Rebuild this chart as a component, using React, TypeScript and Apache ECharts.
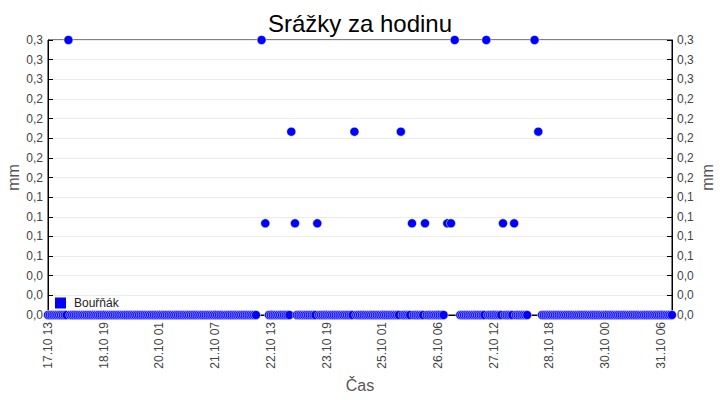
import React, { useEffect, useRef } from "react";
import * as echarts from "echarts";

// Hourly timeline: 17.10 13:00 (CEST) .. 31.10 12:00 (CET)
const START_UTC = Date.UTC(2014, 9, 17, 11);
const DST_END_UTC = Date.UTC(2014, 9, 26, 1);
const HOUR_COUNT = 337;

// Non-zero hourly rain (index of hour from start, value in mm)
const rainHours = [11, 115, 117, 131, 133, 145, 165, 190, 196, 203, 215, 217, 219, 236, 245, 251, 262, 264];
const rainValues = [0.3, 0.3, 0.1, 0.2, 0.1, 0.1, 0.2, 0.2, 0.1, 0.1, 0.1, 0.1, 0.3, 0.3, 0.1, 0.1, 0.3, 0.2];
// Hours without a record
const missingHours = [113, 114, 116, 118, 132, 214, 216, 218, 220, 221, 259, 260, 261, 263, 265];

const seriesName = "Bouřňák";

const pad = (n: number) => (n < 10 ? "0" + n : String(n));

const categories: string[] = [];
for (let i = 0; i < HOUR_COUNT; i++) {
  const t = START_UTC + i * 3600000;
  const local = new Date(t + (t < DST_END_UTC ? 2 : 1) * 3600000);
  categories.push(
    pad(local.getUTCDate()) + "." + pad(local.getUTCMonth() + 1) + " " + pad(local.getUTCHours())
  );
}

const seriesData = categories.map((_, i) => {
  if (missingHours.indexOf(i) >= 0) return null;
  const k = rainHours.indexOf(i);
  return k >= 0 ? rainValues[k] : 0;
});

const FONT = "Liberation Sans, Arial, sans-serif";

const yLabel = (v: number) => (Math.round(v * 10 + 1e-9) / 10).toFixed(1).replace(".", ",");

export default function App() {
  const ref = useRef<HTMLDivElement>(null);
  useEffect(() => {
    if (!ref.current) return;
    const chart = echarts.init(ref.current, null, { renderer: "svg" });
    const yCommon = {
      type: "value" as const,
      min: 0,
      max: 0.3,
      interval: 0.3 / 14,
      name: "mm",
      nameLocation: "middle" as const,
      nameGap: 27,
      nameMoveOverlap: false,
      nameTextStyle: { fontSize: 16, color: "#555", fontFamily: FONT },
      axisLine: { show: true, lineStyle: { color: "#000", width: 1 } },
      axisTick: { show: true, inside: true, length: 5, lineStyle: { color: "#000" } },
      axisLabel: { formatter: yLabel, fontSize: 12, color: "#444", fontFamily: FONT, margin: 5 },
    };
    chart.setOption({
      animation: false,
      backgroundColor: "#fff",
      title: {
        text: "Srážky za hodinu",
        left: "center",
        top: 6,
        textStyle: { fontSize: 24, fontWeight: "normal", color: "#000", fontFamily: FONT },
      },
      grid: {
        left: 48,
        right: 48,
        top: 40,
        bottom: 85,
        show: true,
        borderColor: "#000",
        borderWidth: 1,
        outerBoundsMode: "none",
        containLabel: false,
      },
      legend: {
        data: [{ name: seriesName, icon: "rect" }],
        left: 50,
        top: 292,
        itemWidth: 11,
        itemHeight: 11,
        itemGap: 8,
        itemStyle: { borderWidth: 0 },
        textStyle: { fontSize: 12, color: "#222", fontFamily: FONT, padding: [0, 0, 0, 3] },
      },
      xAxis: {
        type: "category",
        data: categories,
        boundaryGap: false,
        name: "Čas",
        nameLocation: "middle",
        nameGap: 62,
        nameMoveOverlap: false,
        nameTextStyle: { fontSize: 16, color: "#555", fontFamily: FONT },
        axisLine: { show: true, lineStyle: { color: "#000" } },
        axisTick: { show: true, inside: true, interval: 29, length: 5, lineStyle: { color: "#000" } },
        axisLabel: {
          interval: 29,
          rotate: 90,
          fontSize: 12,
          color: "#444",
          fontFamily: FONT,
          margin: 7,
        },
        splitLine: { show: false },
      },
      yAxis: [
        {
          ...yCommon,
          position: "left",
          splitLine: { show: true, lineStyle: { color: "#ebebeb", width: 1 } },
        },
        {
          ...yCommon,
          position: "right",
          splitLine: { show: false },
        },
      ],
      series: [
        {
          name: seriesName,
          type: "scatter",
          yAxisIndex: 0,
          data: seriesData,
          symbol: "circle",
          symbolSize: 9,
          itemStyle: { color: "#0000ff", borderColor: "#ffffff", borderWidth: 0.5, opacity: 1 },
          emphasis: { disabled: true },
        },
      ],
    });
    return () => chart.dispose();
  }, []);
  return (
    <div
      ref={ref}
      style={{ position: "fixed", left: 0, top: 0, width: 720, height: 400, background: "#fff" }}
    />
  );
}
